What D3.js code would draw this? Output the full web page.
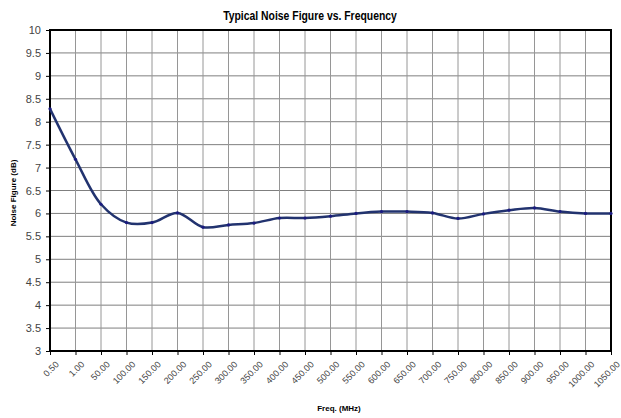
<!DOCTYPE html>
<html>
<head>
<meta charset="utf-8">
<script src="https://cdn.jsdelivr.net/npm/d3@7"></script>
<style>
  body { margin: 0; background: #fff; }
  text { font-family: "Liberation Sans", Arial, sans-serif; }
</style>
</head>
<body>
<svg id="chart" width="621" height="418"></svg>
<script>
// category labels along the x axis (Excel line chart, so categorical)
const freqLabels = ["0.50", "1.00", "50.00", "100.00", "150.00", "200.00", "250.00",
  "300.00", "350.00", "400.00", "450.00", "500.00", "550.00", "600.00", "650.00",
  "700.00", "750.00", "800.00", "850.00", "900.00", "950.00", "1000.00", "1050.00"];
// noise figure readings (dB)
const noiseFigure = [8.28, 7.18, 6.2, 5.8, 5.8, 6.01, 5.7, 5.75, 5.79, 5.9, 5.9,
  5.94, 6.0, 6.04, 6.04, 6.01, 5.89, 5.99, 6.07, 6.12, 6.04, 6.0, 6.0];
const yTicks = [3, 3.5, 4, 4.5, 5, 5.5, 6, 6.5, 7, 7.5, 8, 8.5, 9, 9.5, 10];

const margin = { top: 30, right: 10, bottom: 67, left: 50 };
const width = 621 - margin.left - margin.right;
const height = 418 - margin.top - margin.bottom;

const svg = d3.select("#chart")
  .append("g")
  .attr("transform", "translate(" + margin.left + "," + margin.top + ")");

const x = d3.scalePoint().domain(freqLabels).range([0, width]);
const y = d3.scaleLinear().domain([3, 10]).range([height, 0]);

// grid
svg.append("g")
  .selectAll("line")
  .data(yTicks)
  .join("line")
  .attr("x1", 0).attr("x2", width)
  .attr("y1", d => y(d)).attr("y2", d => y(d))
  .attr("stroke", "#7f7f7f").attr("stroke-width", 1);
svg.append("g")
  .selectAll("line")
  .data(freqLabels)
  .join("line")
  .attr("x1", d => x(d)).attr("x2", d => x(d))
  .attr("y1", 0).attr("y2", height)
  .attr("stroke", "#969696").attr("stroke-width", 1);

// y axis
const yAxis = svg.append("g")
  .call(d3.axisLeft(y).tickValues(yTicks).tickSize(4).tickPadding(5).tickFormat(d3.format("")));
yAxis.select(".domain").remove();
yAxis.selectAll("line").attr("stroke", "#000");
yAxis.selectAll("text").attr("font-size", 11).attr("fill", "#444");

// x axis
const xAxis = svg.append("g")
  .attr("transform", "translate(0," + height + ")")
  .call(d3.axisBottom(x).tickSize(4).tickSizeOuter(0));
xAxis.select(".domain").remove();
xAxis.selectAll("line").attr("stroke", "#000");
xAxis.selectAll("text")
  .attr("font-size", 9)
  .attr("fill", "#444")
  .attr("text-anchor", "end")
  .attr("dx", 0).attr("dy", 0)
  .attr("transform", "translate(4,9) rotate(-45)");

// frame
svg.append("rect")
  .attr("width", width).attr("height", height)
  .attr("fill", "none").attr("stroke", "#000").attr("stroke-width", 2);

// line
const line = d3.line()
  .x((d, i) => x(freqLabels[i]))
  .y(d => y(d))
  .curve(d3.curveCatmullRom.alpha(0.5));
svg.append("path")
  .datum(noiseFigure)
  .attr("d", line)
  .attr("fill", "none")
  .attr("stroke", "#22336f")
  .attr("stroke-width", 2.5);
svg.append("g")
  .selectAll("circle")
  .data(noiseFigure)
  .join("circle")
  .attr("cx", (d, i) => x(freqLabels[i]))
  .attr("cy", d => y(d))
  .attr("r", 1.6)
  .attr("fill", "#1a1a80");

// titles
d3.select("#chart").append("text")
  .attr("transform", "translate(310,20) scale(0.8,1)")
  .attr("text-anchor", "middle")
  .attr("font-size", 13).attr("font-weight", "bold")
  .text("Typical Noise Figure vs. Frequency");
d3.select("#chart").append("text")
  .attr("x", 339).attr("y", 411)
  .attr("text-anchor", "middle")
  .attr("font-size", 8).attr("font-weight", "bold")
  .text("Freq. (MHz)");
d3.select("#chart").append("text")
  .attr("transform", "translate(16,193) rotate(-90)")
  .attr("text-anchor", "middle")
  .attr("font-size", 8).attr("font-weight", "bold")
  .text("Noise Figure (dB)");
</script>
</body>
</html>
